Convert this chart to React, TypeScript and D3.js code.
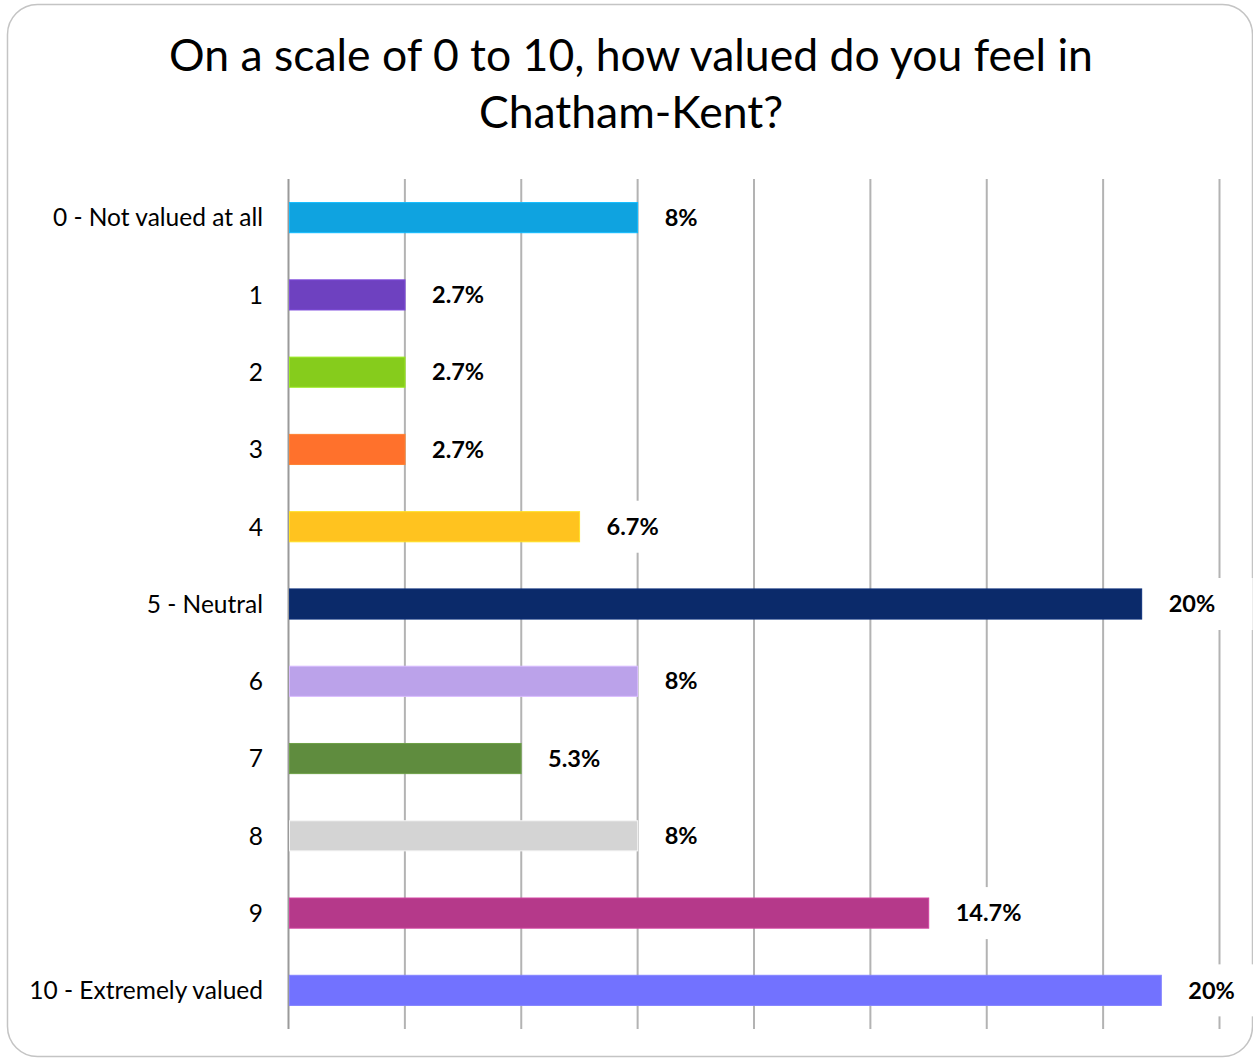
import React, { useEffect, useRef } from "react";
import * as d3 from "d3";

const categories = [
  "0 - Not valued at all",
  "1",
  "2",
  "3",
  "4",
  "5 - Neutral",
  "6",
  "7",
  "8",
  "9",
  "10 - Extremely valued",
];
const values = [8, 2.67, 2.67, 2.67, 6.67, 19.55, 8, 5.33, 8, 14.67, 20];
const valueLabels = ["8%", "2.7%", "2.7%", "2.7%", "6.7%", "20%", "8%", "5.3%", "8%", "14.7%", "20%"];
const colors = [
  "#0FA3E0",
  "#6E41C0",
  "#86CC1C",
  "#FF712C",
  "#FFC31F",
  "#0B2A6A",
  "#BBA2EA",
  "#5F8C3E",
  "#D4D4D4",
  "#B5398A",
  "#7272FF",
];
const titleLines = ["On a scale of 0 to 10, how valued do you feel in", "Chatham-Kent?"];
const gridStep = 8 / 3;
const gridCount = 8;

const W = 1253;
const H = 1059;
const FONT = "Lato, 'Open Sans', sans-serif";

export default function App() {
  const ref = useRef<SVGSVGElement | null>(null);

  useEffect(() => {
    const svg = d3.select(ref.current);
    svg.selectAll("*").remove();

    const left = 288.5;
    const right = 1219.5;
    const top = 179;
    const bottom = 1029;

    const x = d3.scaleLinear().domain([0, gridStep * gridCount]).range([left, right]);
    const y = d3
      .scaleBand<string>()
      .domain(categories)
      .range([top, bottom])
      .paddingInner(0.61)
      .paddingOuter(0.305);

    // frame
    svg
      .append("rect")
      .attr("x", 7.5)
      .attr("y", 4.5)
      .attr("width", 1245)
      .attr("height", 1052)
      .attr("rx", 30)
      .attr("fill", "#fff")
      .attr("stroke", "#c4c4c4")
      .attr("stroke-width", 1.5);

    // title
    svg
      .append("g")
      .selectAll("text")
      .data(titleLines)
      .join("text")
      .attr("x", 631)
      .attr("y", (_d, i) => 71 + i * 57)
      .attr("text-anchor", "middle")
      .attr("font-family", FONT)
      .attr("font-size", 44.5)
      .attr("fill", "#000")
      .text((d) => d);

    // gridlines
    const ticks = d3.range(1, gridCount + 1).map((i) => i * gridStep);
    svg
      .append("g")
      .selectAll("line")
      .data(ticks)
      .join("line")
      .attr("x1", (d) => x(d))
      .attr("x2", (d) => x(d))
      .attr("y1", top)
      .attr("y2", bottom)
      .attr("stroke", "#b3b3b3")
      .attr("stroke-width", 2);

    // axis line
    svg
      .append("line")
      .attr("x1", x(0))
      .attr("x2", x(0))
      .attr("y1", top)
      .attr("y2", bottom)
      .attr("stroke", "#9a9a9a")
      .attr("stroke-width", 2);

    // bars
    svg
      .append("g")
      .selectAll("rect")
      .data(values)
      .join("rect")
      .attr("x", x(0) + 1)
      .attr("y", (_d, i) => y(categories[i])!)
      .attr("width", (d) => x(d) - x(0) - 1)
      .attr("height", y.bandwidth())
      .attr("fill", (_d, i) => colors[i])
      .attr("stroke", (_d, i) => d3.color(colors[i])!.brighter(0.4).formatHex())
      .attr("stroke-width", 1);

    // category labels
    svg
      .append("g")
      .selectAll("text")
      .data(categories)
      .join("text")
      .attr("x", 263)
      .attr("y", (d) => y(d)! + y.bandwidth() / 2)
      .attr("dy", "0.36em")
      .attr("text-anchor", "end")
      .attr("font-family", FONT)
      .attr("font-size", 24.5)
      .attr("fill", "#000")
      .text((d) => d);

    // value labels with white boxes
    const lg = svg.append("g");
    values.forEach((v, i) => {
      const cx = x(v) + 27;
      const cy = y(categories[i])! + y.bandwidth() / 2;
      lg.append("rect")
        .attr("x", cx - 10)
        .attr("y", cy - 26)
        .attr("width", 94)
        .attr("height", 52)
        .attr("fill", "#fff");
      lg.append("text")
        .attr("x", cx)
        .attr("y", cy)
        .attr("dy", "0.35em")
        .attr("font-family", FONT)
        .attr("font-size", 23.5)
        .attr("font-weight", "bold")
        .attr("fill", "#000")
        .text(valueLabels[i]);
    });
  }, []);

  return (
    <svg
      ref={ref}
      width={W}
      height={H}
      style={{ position: "absolute", left: 0, top: 0, background: "#fff" }}
    />
  );
}
